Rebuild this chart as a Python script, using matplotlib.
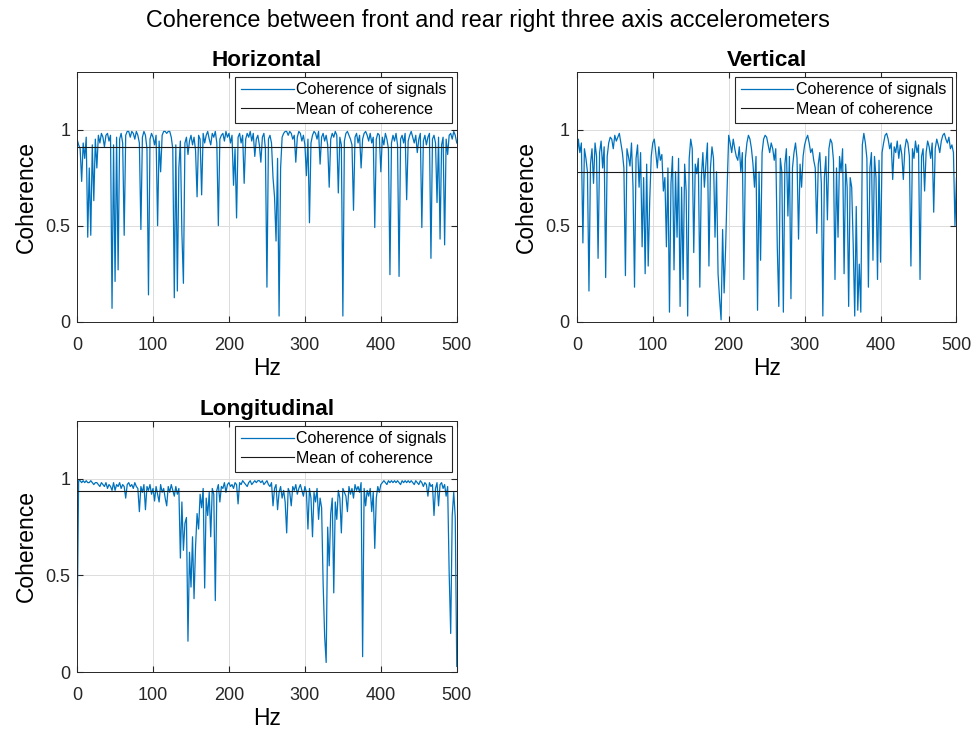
"""Coherence between front and rear right accelerometers (MATLAB-style figure)."""

import matplotlib
matplotlib.use("Agg")
import matplotlib.pyplot as plt
import numpy as np

plt.rcParams["font.family"] = ["Liberation Sans", "DejaVu Sans"]

# ── Data (2 Hz spacing) ─────────────────────────────────────────────────
freq_hz = np.arange(0, 502, 2)

horizontal = [
    0.95, 0.92, 0.90, 0.73, 0.93, 0.85, 0.96, 0.44, 0.80, 0.45,
    0.92, 0.63, 0.95, 0.80, 0.97, 0.93, 0.98, 0.96, 0.91, 0.97,
    0.98, 0.94, 0.97, 0.07, 0.92, 0.21, 0.96, 0.27, 0.95, 0.98,
    0.93, 0.45, 0.97, 0.99, 0.99, 0.96, 0.99, 0.98, 0.95, 0.99,
    0.97, 0.93, 0.48, 0.96, 0.99, 0.97, 0.90, 0.14, 0.95, 0.98,
    0.96, 0.92, 0.97, 0.50, 0.94, 0.78, 0.97, 0.99, 0.99, 0.98,
    0.99, 0.99, 0.96, 0.90, 0.125, 0.92, 0.16, 0.80, 0.94, 0.46,
    0.20, 0.93, 0.96, 0.87, 0.94, 0.97, 0.92, 0.96, 0.89, 0.65,
    0.97, 0.95, 0.66, 0.98, 0.93, 0.97, 0.99, 0.95, 0.92, 0.98,
    0.96, 0.99, 0.93, 0.50, 0.95, 0.97, 0.98, 0.94, 0.99, 0.96,
    0.98, 0.93, 0.97, 0.71, 0.90, 0.54, 0.96, 0.98, 0.93, 0.97,
    0.72, 0.95, 0.98, 0.96, 0.99, 0.94, 0.98, 0.86, 0.95, 0.97,
    0.92, 0.83, 0.96, 0.98, 0.90, 0.18, 0.95, 0.97, 0.93, 0.75,
    0.65, 0.42, 0.85, 0.03, 0.80, 0.96, 0.98, 0.99, 0.99, 0.97,
    0.99, 0.98, 0.95, 0.97, 0.83, 0.96, 0.99, 0.98, 0.94, 0.97,
    0.92, 0.76, 0.95, 0.515, 0.93, 0.97, 0.99, 0.98, 0.95, 0.99,
    0.82, 0.96, 0.98, 0.94, 0.97, 0.92, 0.70, 0.95, 0.98, 0.96,
    0.99, 0.97, 0.67, 0.96, 0.92, 0.03, 0.94, 0.98, 0.99, 0.97,
    0.95, 0.92, 0.58, 0.96, 0.98, 0.93, 0.97, 0.80, 0.95, 0.98,
    0.99, 0.97, 0.94, 0.98, 0.93, 0.96, 0.49, 0.95, 0.98, 0.97,
    0.78, 0.96, 0.92, 0.98, 0.95, 0.90, 0.245, 0.93, 0.97, 0.94,
    0.98, 0.92, 0.236, 0.95, 0.97, 0.93, 0.98, 0.635, 0.94, 0.97,
    0.99, 0.96, 0.93, 0.97, 0.88, 0.95, 0.98, 0.49, 0.94, 0.97,
    0.92, 0.96, 0.98, 0.33, 0.95, 0.97, 0.93, 0.62, 0.96, 0.43,
    0.92, 0.96, 0.40, 0.95, 0.87, 0.97, 0.98, 0.95, 0.99, 0.97,
    0.93,
]

vertical = [
    0.84, 0.95, 0.88, 0.93, 0.41, 0.90, 0.85, 0.78, 0.16, 0.82,
    0.90, 0.72, 0.93, 0.86, 0.33, 0.88, 0.94, 0.80, 0.91, 0.23,
    0.86, 0.93, 0.96, 0.95, 0.90, 0.97, 0.94, 0.96, 0.98, 0.93,
    0.88, 0.80, 0.24, 0.90, 0.86, 0.81, 0.93, 0.70, 0.18, 0.85,
    0.92, 0.70, 0.88, 0.39, 0.75, 0.25, 0.82, 0.29, 0.63, 0.86,
    0.93, 0.95, 0.88, 0.80, 0.91, 0.84, 0.87, 0.68, 0.75, 0.39,
    0.80, 0.05, 0.72, 0.86, 0.27, 0.78, 0.44, 0.85, 0.08, 0.70,
    0.22, 0.82, 0.68, 0.03, 0.85, 0.95, 0.90, 0.36, 0.82, 0.77,
    0.85, 0.18, 0.75, 0.88, 0.70, 0.82, 0.93, 0.29, 0.80, 0.91,
    0.85, 0.44, 0.78, 0.25, 0.12, 0.01, 0.48, 0.15, 0.39, 0.70,
    0.97, 0.93, 0.88, 0.95, 0.90, 0.86, 0.84, 0.91, 0.78, 0.88,
    0.22, 0.85, 0.93, 0.97, 0.95, 0.90, 0.82, 0.70, 0.86, 0.06,
    0.78, 0.32, 0.88, 0.95, 0.97, 0.96, 0.92, 0.88, 0.93, 0.90,
    0.84, 0.90, 0.39, 0.08, 0.85, 0.78, 0.05, 0.82, 0.90, 0.55,
    0.86, 0.12, 0.80, 0.88, 0.93, 0.85, 0.43, 0.82, 0.70, 0.86,
    0.92, 0.95, 0.97, 0.93, 0.88, 0.90, 0.84, 0.80, 0.46, 0.82,
    0.88, 0.72, 0.03, 0.75, 0.86, 0.53, 0.90, 0.95, 0.93, 0.84,
    0.22, 0.80, 0.44, 0.86, 0.78, 0.90, 0.25, 0.82, 0.70, 0.08,
    0.75, 0.70, 0.40, 0.03, 0.60, 0.06, 0.30, 0.05, 0.92, 0.98,
    0.93, 0.85, 0.18, 0.80, 0.88, 0.32, 0.86, 0.75, 0.22, 0.84,
    0.31, 0.88, 0.93, 0.97, 0.98, 0.95, 0.90, 0.93, 0.74, 0.91,
    0.88, 0.94, 0.85, 0.92, 0.87, 0.74, 0.90, 0.95, 0.93, 0.86,
    0.29, 0.90, 0.85, 0.94, 0.88, 0.92, 0.22, 0.86, 0.90, 0.68,
    0.88, 0.94, 0.91, 0.85, 0.93, 0.57, 0.90, 0.95, 0.92, 0.88,
    0.94, 0.97, 0.98, 0.95, 0.93, 0.96, 0.90, 0.92, 0.88, 0.50,
    0.75,
]

longitudinal = [
    0.20, 0.99, 0.99, 0.98, 0.99, 0.98, 0.99, 0.98, 0.98, 0.99,
    0.98, 0.97, 0.98, 0.98, 0.97, 0.96, 0.98, 0.97, 0.96, 0.98,
    0.95, 0.97, 0.96, 0.94, 0.98, 0.94, 0.97, 0.96, 0.98, 0.95,
    0.97, 0.96, 0.90, 0.97, 0.98, 0.96, 0.97, 0.95, 0.98, 0.96,
    0.95, 0.83, 0.96, 0.93, 0.97, 0.84, 0.96, 0.94, 0.97, 0.92,
    0.95, 0.885, 0.96, 0.92, 0.88, 0.97, 0.93, 0.95, 0.90, 0.86,
    0.96, 0.93, 0.97, 0.94, 0.91, 0.96, 0.92, 0.95, 0.59, 0.88,
    0.63, 0.77, 0.80, 0.16, 0.62, 0.44, 0.70, 0.38, 0.65, 0.82,
    0.74, 0.92, 0.85, 0.95, 0.435, 0.90, 0.81, 0.93, 0.70, 0.95,
    0.92, 0.37, 0.94, 0.97, 0.88, 0.96, 0.95, 0.98, 0.93, 0.97,
    0.98, 0.96, 0.97, 0.95, 0.98, 0.97, 0.87, 0.98, 0.97, 0.99,
    0.98, 0.97, 0.96, 0.98, 0.99, 0.97, 0.98, 0.99, 0.98, 0.99,
    0.99, 0.98, 0.99, 0.97, 0.98, 0.99, 0.97, 0.96, 0.98, 0.86,
    0.95, 0.97, 0.84, 0.93, 0.96, 0.90, 0.94, 0.88, 0.72, 0.95,
    0.93, 0.86, 0.96, 0.94, 0.97, 0.92, 0.95, 0.97, 0.94, 0.91,
    0.96, 0.93, 0.74, 0.95, 0.90, 0.70, 0.93, 0.88, 0.95, 0.79,
    0.90, 0.85, 0.46, 0.185, 0.05, 0.75, 0.55, 0.82, 0.90, 0.41,
    0.88, 0.79, 0.94, 0.90, 0.72, 0.95, 0.93, 0.91, 0.83, 0.96,
    0.92, 0.95, 0.90, 0.97, 0.94, 0.96, 0.93, 0.98, 0.08, 0.95,
    0.86, 0.94, 0.91, 0.95, 0.83, 0.93, 0.64, 0.90, 0.96, 0.93,
    0.97, 0.98, 0.99, 0.98, 0.97, 0.99, 0.98, 0.99, 0.98, 0.99,
    0.98, 0.99, 0.98, 0.97, 0.99, 0.98, 0.99, 0.98, 0.99, 0.98,
    0.99, 0.98, 0.97, 0.99, 0.98, 0.97, 0.99, 0.98, 0.96, 0.98,
    0.97, 0.91, 0.98, 0.96, 0.97, 0.81, 0.95, 0.98, 0.86, 0.97,
    0.98, 0.95, 0.97, 0.91, 0.96, 0.51, 0.20, 0.81, 0.93, 0.80,
    0.03,
]

# mean levels as drawn in the reference
mean_horizontal = 0.91
mean_vertical = 0.78
mean_longitudinal = 0.935

titles = ["Horizontal", "Vertical", "Longitudinal"]
series = [horizontal, vertical, longitudinal]
means = [mean_horizontal, mean_vertical, mean_longitudinal]

# axes rectangles in figure fractions (left, bottom, width, height)
rects = [
    (0.079, 0.561, 0.389, 0.341),
    (0.591, 0.561, 0.389, 0.341),
    (0.079, 0.083, 0.389, 0.343),
]

LINE_BLUE = "#0072BD"

fig = plt.figure(figsize=(9.76, 7.33), dpi=100)
fig.suptitle("Coherence between front and rear right three axis accelerometers",
             fontsize=16.8, y=0.988)

for rect, title, vals, mu in zip(rects, titles, series, means):
    ax = fig.add_axes(rect)
    ax.plot(freq_hz, vals, color=LINE_BLUE, lw=0.9, label="Coherence of signals")
    ax.axhline(mu, color="#1a1a1a", lw=0.8, label="Mean of coherence")

    ax.set_xlim(0, 500)
    ax.set_ylim(0, 1.3)
    ax.set_xticks([0, 100, 200, 300, 400, 500])
    ax.set_yticks([0, 0.5, 1])
    ax.set_yticklabels(["0", "0.5", "1"])
    ax.tick_params(direction="in", length=4, labelsize=13, colors="#262626",
                   top=True, right=True, pad=5)
    ax.tick_params(axis="x", pad=11)
    ax.grid(True, color="#dcdcdc", lw=0.7)
    ax.set_axisbelow(True)
    for s in ax.spines.values():
        s.set_color("#262626")
        s.set_linewidth(0.7)

    ax.set_title(title, fontsize=16.2, fontweight="bold", pad=4)
    ax.set_xlabel("Hz", fontsize=16.5, labelpad=2)
    ax.set_ylabel("Coherence", fontsize=16.5, labelpad=5)

    leg = ax.legend(loc="upper right", fontsize=11.5, frameon=True,
                    fancybox=False, framealpha=1, edgecolor="#262626",
                    handlelength=3.3, handletextpad=0.15,
                    borderpad=0.35, labelspacing=0.3, borderaxespad=0.3)
    leg.get_frame().set_linewidth(0.8)

fig.savefig("out.png", dpi=100)
plt.close(fig)
